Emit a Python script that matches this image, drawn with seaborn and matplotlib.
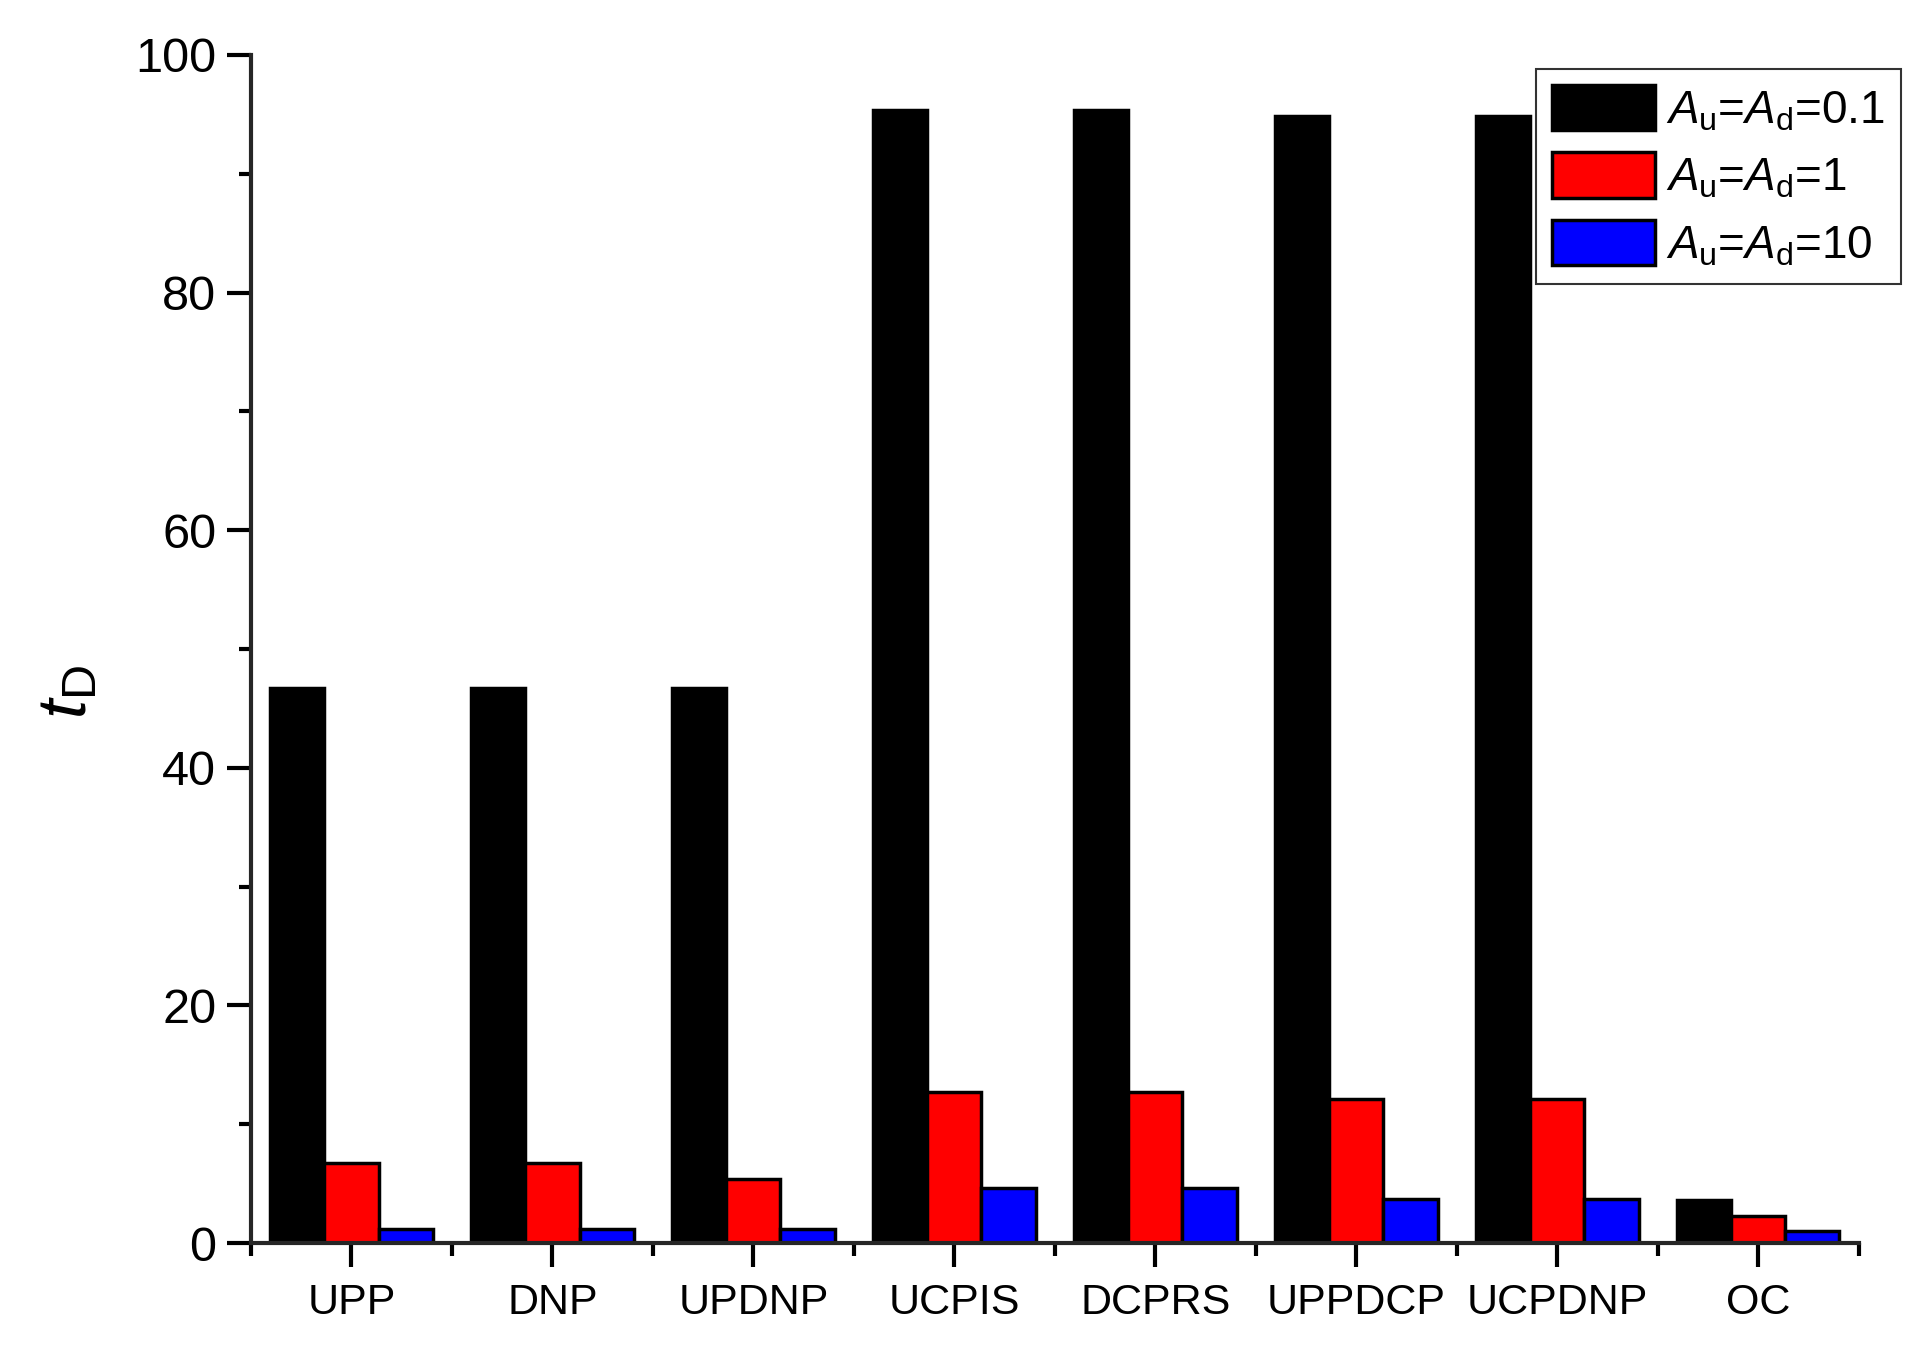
import numpy as np
import pandas as pd
import matplotlib
matplotlib.use('Agg')
import matplotlib.pyplot as plt
from matplotlib.ticker import MultipleLocator, FixedLocator
import seaborn as sns

# dados
categorias = ['UPP', 'DNP', 'UPDNP', 'UCPIS', 'DCPRS', 'UPPDCP', 'UCPDNP', 'OC']
a_01 = [46.7, 46.7, 46.7, 95.4, 95.4, 94.9, 94.9, 3.6]
a_1 = [6.7, 6.7, 5.4, 12.7, 12.7, 12.1, 12.1, 2.3]
a_10 = [1.15, 1.15, 1.15, 4.6, 4.6, 3.7, 3.7, 1.0]
series = [r'$\mathit{A}_\mathrm{u}$=$\mathit{A}_\mathrm{d}$=0.1',
          r'$\mathit{A}_\mathrm{u}$=$\mathit{A}_\mathrm{d}$=1',
          r'$\mathit{A}_\mathrm{u}$=$\mathit{A}_\mathrm{d}$=10']
cores = ['#000000', '#ff0000', '#0000ff']

df = pd.DataFrame({
    'Categoria': categorias * 3,
    'tD': a_01 + a_1 + a_10,
    'Serie': [series[0]] * 8 + [series[1]] * 8 + [series[2]] * 8,
})

sns.set_style('ticks')
plt.rcParams['font.family'] = ['Liberation Sans', 'DejaVu Sans']
plt.rcParams['mathtext.fontset'] = 'custom'
plt.rcParams['mathtext.rm'] = 'Liberation Sans'
plt.rcParams['mathtext.it'] = 'Liberation Sans:italic'
plt.rcParams['text.color'] = 'black'
plt.rcParams['axes.labelcolor'] = 'black'
plt.rcParams['xtick.color'] = 'black'
plt.rcParams['ytick.color'] = 'black'

fig = plt.figure(figsize=(19.2, 13.6), dpi=100)
ax = fig.add_axes([0.1307, 0.086, 0.8373, 0.8736])

sns.barplot(data=df, x='Categoria', y='tD', hue='Serie', order=categorias,
            hue_order=series, palette=cores, width=0.81, edgecolor='black',
            linewidth=2.5, saturation=1, ax=ax)

ax.set_xlim(-0.5, 7.5)
ax.set_ylim(0, 100)
ax.yaxis.set_major_locator(MultipleLocator(20))
ax.yaxis.set_minor_locator(MultipleLocator(10))
ax.xaxis.set_minor_locator(FixedLocator(np.arange(-0.5, 8, 1)))

for s in ['top', 'right']:
    ax.spines[s].set_visible(False)
for s in ['left', 'bottom']:
    ax.spines[s].set_linewidth(3)

ax.tick_params(which='major', direction='out', length=17, width=3, pad=8)
ax.tick_params(which='minor', direction='out', length=9, width=3)
ax.tick_params(axis='y', labelsize=35)
ax.tick_params(axis='x', labelsize=31, pad=12)

ax.set_xlabel('')
ax.set_ylabel(r'$\mathit{t}_\mathrm{D}$', fontsize=50)
ax.yaxis.set_label_coords(-0.094, 0.464)

leg = ax.legend(loc='upper right', bbox_to_anchor=(1.035, 1.0), fontsize=33,
                frameon=True, fancybox=False, edgecolor='black',
                handlelength=2.25, handleheight=1.15, handletextpad=0.25,
                labelspacing=0.42, borderpad=0.35, borderaxespad=0.3)
leg.get_frame().set_linewidth(1.5)

fig.savefig('out.png', dpi=100)
